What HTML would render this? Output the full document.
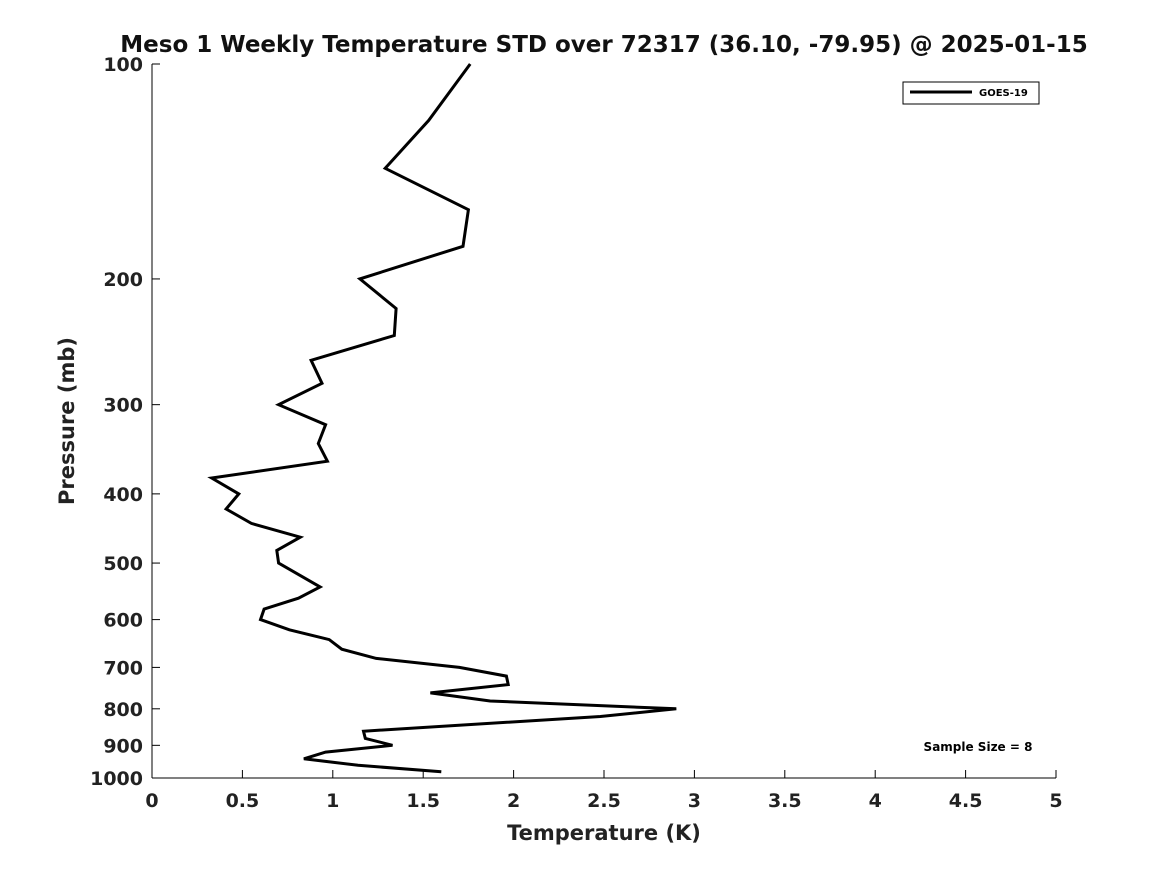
<!DOCTYPE html>
<html><head><meta charset="utf-8"><style>
body{margin:0;background:#fff;}
svg{display:block;font-family:"DejaVu Sans","Liberation Sans",sans-serif;}
</style></head><body>
<svg id="chart" width="1167" height="875">
<text x="604" y="52" text-anchor="middle" font-size="23" font-weight="bold" fill="#111">Meso 1 Weekly Temperature STD over 72317 (36.10, -79.95) @ 2025-01-15</text>
<g id="axes"></g>
<g id="series"></g>
<g>
<rect x="903" y="82" width="136" height="22" fill="#fff" stroke="#000" stroke-width="1"/>
<line x1="910" y1="92" x2="972" y2="92" stroke="#000" stroke-width="3"/>
<text x="979" y="96" font-size="10" font-weight="bold">GOES-19</text>
</g>
<text x="978" y="751" text-anchor="middle" font-size="12" font-weight="bold">Sample Size = 8</text>
<text x="604" y="840" text-anchor="middle" font-size="21" font-weight="bold" fill="#222">Temperature (K)</text>
<text transform="translate(74,421) rotate(-90)" text-anchor="middle" font-size="21" font-weight="bold" fill="#222">Pressure (mb)</text>
</svg>
<script>
const temps=[1.76,1.53,1.29,1.75,1.72,1.15,1.35,1.34,0.88,0.94,0.70,0.96,0.92,0.97,0.33,0.48,0.41,0.55,0.82,0.69,0.70,0.93,0.81,0.62,0.60,0.76,0.98,1.05,1.24,1.70,1.96,1.97,1.54,1.87,2.90,2.48,1.17,1.18,1.33,0.96,0.84,1.14,1.60];
const pressures=[100,120,140,160,180,200,220,240,260,280,300,320,340,360,380,400,420,440,460,480,500,540,560,580,600,620,640,660,680,700,720,740,760,780,800,820,860,880,900,920,940,960,980];
const xTicks=[0,0.5,1,1.5,2,2.5,3,3.5,4,4.5,5];
const yTicks=[100,200,300,400,500,600,700,800,900,1000];
const NS="http://www.w3.org/2000/svg";
const X0=152,X1=1056,Y0=64,Y1=778;
function xs(v){return X0+(v-0)/5*(X1-X0);}
function ys(p){return Y0+(Math.log10(p)-2)*(Y1-Y0);}
const axes=document.getElementById('axes');
function mk(t,a,parent){const e=document.createElementNS(NS,t);for(const k in a)e.setAttribute(k,a[k]);parent.appendChild(e);return e;}
let l=mk('line',{x1:X0,y1:Y0,x2:X0,y2:Y1,stroke:'#000','stroke-width':1},axes);


l=mk('line',{x1:X0,y1:Y1,x2:X1,y2:Y1,stroke:'#000','stroke-width':1},axes);


xTicks.forEach(v=>{
 const x=xs(v);
 mk('line',{x1:x,y1:Y1,x2:x,y2:Y1-8,stroke:'#000'},axes);
 const t=mk('text',{x:x,y:807,'text-anchor':'middle','font-size':19,'font-weight':'bold',fill:'#222'},axes);
 t.textContent=String(v);
 
 
});
yTicks.forEach(p=>{
 const y=ys(p);
 mk('line',{x1:X0,y1:y,x2:X0+8,y2:y,stroke:'#000'},axes);
 const t=mk('text',{x:143,y:y+7,'text-anchor':'end','font-size':19,'font-weight':'bold',fill:'#222'},axes);
 t.textContent=String(p);
 
 
});
const pts=temps.map((v,i)=>xs(v).toFixed(1)+','+ys(pressures[i]).toFixed(1)).join(' ');
const line=mk('polyline',{points:pts,fill:'none',stroke:'#000','stroke-width':3,'stroke-linejoin':'miter'},document.getElementById('series'));


</script>
</body></html>
